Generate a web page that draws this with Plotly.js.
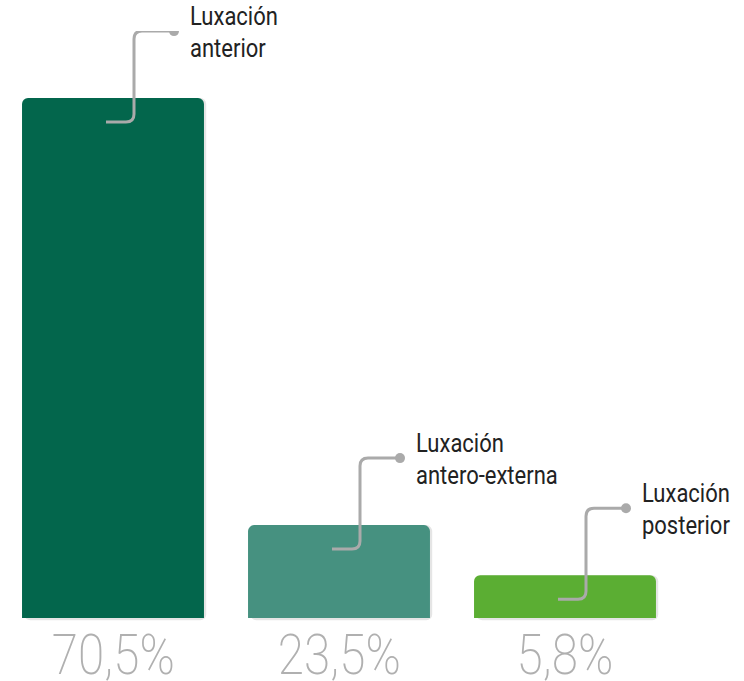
<!DOCTYPE html>
<html>
<head>
<meta charset="utf-8">
<script src="https://cdn.plot.ly/plotly-3.0.1.min.js"></script>
<style>
  html, body { margin: 0; padding: 0; background: #ffffff; }
  #chart { width: 744px; height: 681px; }
  .condensed-label { transform-box: fill-box; transform-origin: 0% 50%; transform: scaleX(0.88); }
  .condensed-pct { transform-box: fill-box; transform-origin: 50% 50%; transform: scaleX(0.85); }
</style>
</head>
<body>
<div id="chart"></div>
<script>
// ---- Data ----
var categories = ['Luxación<br>anterior', 'Luxación<br>antero-externa', 'Luxación<br>posterior'];
var percentValues = [70.5, 23.5, 5.8];          // printed percentages
var barHeights = [70.5, 12.6, 5.8];             // bar heights as drawn in the picture
var barColors = ['#03664c', '#469180', '#5bae33'];

function fmtPct(v) { return String(v).replace('.', ',') + '%'; }

var xIdx = categories.map(function (c, i) { return i; });
var BAR_W = 0.805;

var shadow = {
  type: 'bar',
  x: xIdx,
  y: barHeights.map(function (h) { return h + 0.3; }),
  base: barHeights.map(function () { return -0.3; }),
  width: BAR_W,
  offset: -BAR_W / 2 + 0.01,
  marker: { color: 'rgba(0,0,0,0.10)', line: { width: 0 } },
  hoverinfo: 'skip',
  showlegend: false
};

var trace = {
  type: 'bar',
  x: xIdx,
  y: barHeights,
  width: BAR_W,
  offset: -BAR_W / 2,
  marker: { color: barColors, line: { width: 0 } },
  hoverinfo: 'skip',
  showlegend: false
};

// Connector path (pixels relative to the bar top centre, y up)
var connectorPath = 'M -7,-24 L 13,-24 Q 21,-24 21,-16 L 21,59 Q 21,67 29,67 L 61,67';

var shapes = [];
var annotations = [];
xIdx.forEach(function (i) {
  shapes.push({
    type: 'path', xref: 'x', yref: 'y',
    xsizemode: 'pixel', ysizemode: 'pixel',
    xanchor: i, yanchor: barHeights[i],
    path: connectorPath,
    line: { color: '#aaaaaa', width: 3 },
    layer: 'above'
  });
  shapes.push({
    type: 'circle', xref: 'x', yref: 'y',
    xsizemode: 'pixel', ysizemode: 'pixel',
    xanchor: i, yanchor: barHeights[i],
    x0: 56, x1: 66, y0: 62, y1: 72,
    fillcolor: '#aaaaaa', line: { width: 0 },
    layer: 'above'
  });
  annotations.push({
    x: i, y: barHeights[i], xref: 'x', yref: 'y',
    xshift: 75, yshift: 65,
    xanchor: 'left', yanchor: 'middle', align: 'left',
    text: categories[i], showarrow: false,
    font: { family: 'Roboto, sans-serif', size: 25, color: '#222222' }
  });
  annotations.push({
    x: i, y: 0, xref: 'x', yref: 'y',
    yshift: -37, xanchor: 'center', yanchor: 'middle',
    text: fmtPct(percentValues[i]), showarrow: false,
    font: { family: 'Roboto, sans-serif', size: 56, color: '#b0b0b0', weight: 200 }
  });
});

var layout = {
  width: 744, height: 681,
  margin: { l: 0, r: 66, t: 31, b: 60, pad: 0 },
  paper_bgcolor: '#ffffff', plot_bgcolor: '#ffffff',
  barmode: 'overlay',
  barcornerradius: 6,
  xaxis: { type: 'linear', range: [-0.5, 2.5], visible: false, fixedrange: true },
  yaxis: { range: [-0.4, 79.6], visible: false, fixedrange: true },
  shapes: shapes,
  annotations: annotations,
  showlegend: false
};

Plotly.newPlot('chart', [shadow, trace], layout, { displayModeBar: false, staticPlot: true }).then(function (gd) {
  var groups = gd.querySelectorAll('.annotation');
  groups.forEach(function (g) {
    var t = g.querySelector('text.annotation-text');
    if (!t) return;
    var idx = +g.getAttribute('data-index');
    t.classList.add(idx % 2 === 0 ? 'condensed-label' : 'condensed-pct');
  });
});
</script>
</body>
</html>
